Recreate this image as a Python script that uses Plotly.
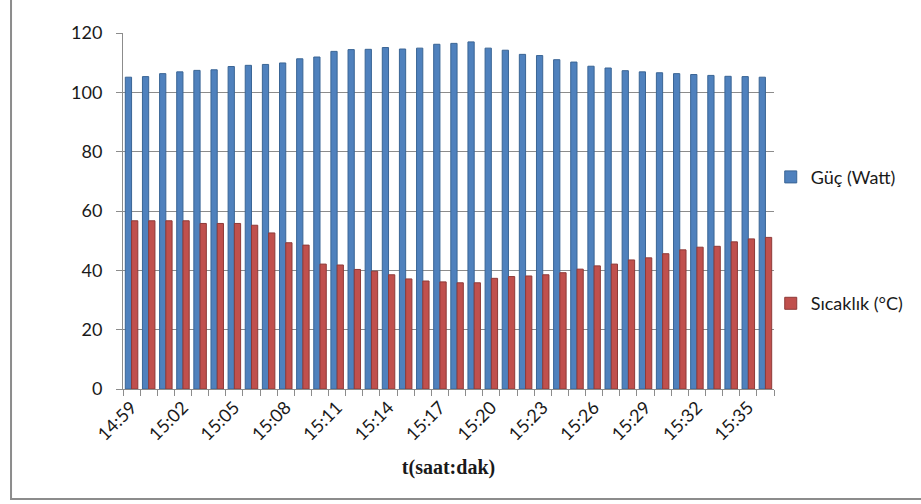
import plotly.graph_objects as go

# Time stamps (hh:mm), one per minute
times = ["14:59", "15:00", "15:01", "15:02", "15:03", "15:04", "15:05", "15:06",
         "15:07", "15:08", "15:09", "15:10", "15:11", "15:12", "15:13", "15:14",
         "15:15", "15:16", "15:17", "15:18", "15:19", "15:20", "15:21", "15:22",
         "15:23", "15:24", "15:25", "15:26", "15:27", "15:28", "15:29", "15:30",
         "15:31", "15:32", "15:33", "15:34", "15:35", "15:36"]

# Power output (W)
power = [105.1, 105.3, 106.3, 106.9, 107.4, 107.6, 108.7, 109.1, 109.4, 109.9,
         111.3, 111.9, 113.8, 114.4, 114.5, 115.1, 114.6, 114.9, 116.2, 116.5,
         117.0, 114.9, 114.2, 112.8, 112.4, 111.0, 110.2, 108.8, 108.2, 107.3,
         106.9, 106.6, 106.3, 106.0, 105.7, 105.4, 105.3, 105.1]

# Temperature (°C)
temperature = [56.7, 56.7, 56.7, 56.7, 55.8, 55.8, 55.8, 55.2, 52.6, 49.3,
               48.5, 42.1, 41.8, 40.3, 39.7, 38.5, 37.1, 36.4, 36.1, 35.8,
               35.8, 37.3, 37.9, 38.1, 38.5, 39.2, 40.4, 41.5, 42.1, 43.5,
               44.2, 45.6, 46.9, 47.8, 48.1, 49.6, 50.6, 51.1]

# Only every third minute gets a label
tick_text = [t if i % 3 == 0 else "" for i, t in enumerate(times)]

y_ticks = [0, 20, 40, 60, 80, 100, 120]

fig = go.Figure()
fig.add_trace(go.Bar(
    x=times, y=power, name="Güç (Watt)", legendgroup="p",
    marker=dict(color="#4F81BD", line=dict(color="#3A6595", width=1)),
))
fig.add_trace(go.Bar(
    x=times, y=temperature, name="Sıcaklık (°C)", legendgroup="t",
    marker=dict(color="#C0504D", line=dict(color="#8E3A38", width=1)),
))

grid_col = "#8C8C8C"
fig.update_layout(
    width=921, height=504,
    margin=dict(l=123, r=138, t=33, b=115),
    paper_bgcolor="white", plot_bgcolor="white",
    barmode="group", bargap=0.27, bargroupgap=0.0,
    font=dict(family="Lato", size=18, color="#1A1A1A"),
    showlegend=True,
    legend=dict(
        x=0.995, xanchor="left", y=0.418, yanchor="middle",
        tracegroupgap=100, font=dict(family="Lato", size=18, color="#1A1A1A"),
        itemwidth=30, bgcolor="rgba(0,0,0,0)",
    ),
    xaxis=dict(
        type="category",
        tickmode="array", tickvals=times, ticktext=tick_text,
        tickangle=-45, tickson="boundaries",
        ticks="outside", ticklen=6, tickcolor=grid_col,
        showline=True, linecolor=grid_col, linewidth=1,
        showgrid=False,
        title=dict(text="t(saat:dak)", standoff=16,
                   font=dict(family="Liberation Serif", size=20, color="#1A1A1A",
                             weight="bold")),
    ),
    yaxis=dict(
        range=[0, 120], tickvals=y_ticks,
        ticks="outside", ticklen=6, tickcolor=grid_col,
        showline=True, linecolor=grid_col, linewidth=1,
        showgrid=True, gridcolor=grid_col, gridwidth=1,
        zeroline=False, ticklabelstandoff=10,
    ),
    shapes=[dict(
        type="rect", xref="paper", yref="paper",
        x0=-0.172, x1=1.25, y0=-0.309, y1=1.12,
        line=dict(color="#8C8C8C", width=2), fillcolor="rgba(0,0,0,0)",
        layer="below",
    )],
)

fig.write_html("out.html")
